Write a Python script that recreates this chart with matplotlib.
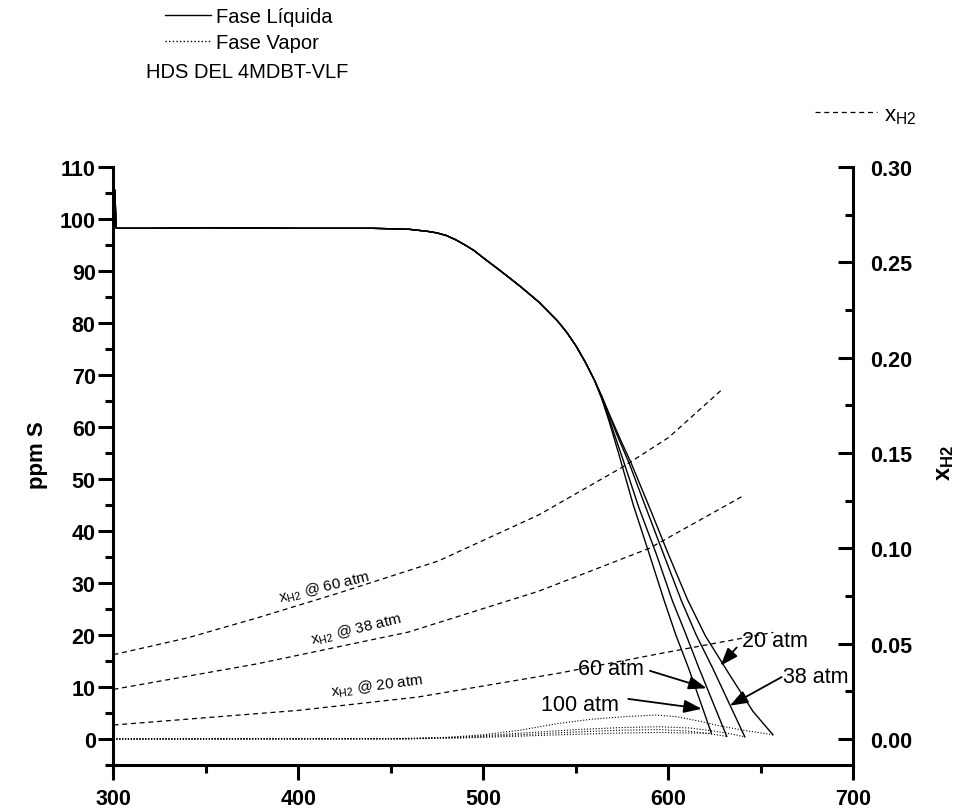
import matplotlib
matplotlib.use("Agg")
import matplotlib.pyplot as plt
from matplotlib.lines import Line2D
from matplotlib.ticker import MultipleLocator, FormatStrFormatter

plt.rcParams["font.family"] = ["Liberation Sans", "DejaVu Sans"]
plt.rcParams["mathtext.fontset"] = "custom"
plt.rcParams["mathtext.rm"] = "Liberation Sans"
plt.rcParams["mathtext.it"] = "Liberation Sans"
plt.rcParams["mathtext.bf"] = "Liberation Sans:bold"

# Fase liquida: tramo comun a todas las presiones (T en K, ppm S)
T_comun = [300.7, 301.5, 320, 350, 400, 440, 460, 470, 475, 480, 485, 490, 495, 500, 510, 520,
           530, 540, 545, 550, 555]
ppm_comun = [105.5, 98.2, 98.2, 98.3, 98.2, 98.2, 98.0, 97.6, 97.3, 96.8, 96.0, 95.0, 93.9, 92.5,
             89.8, 87.0, 84.0, 80.4, 78.2, 75.6, 72.5]

# Fase liquida: tramo final de cada presion
T_liq_100 = [560, 564, 568, 573, 581, 589.7, 597.8, 604, 610.8, 618.9, 623.2]
ppm_liq_100 = [69.0, 65.4, 61.0, 55.0, 45.0, 35.5, 26.5, 20.0, 13.7, 5.5, 1.1]
T_liq_60 = [560, 564, 568, 572, 576.1, 584, 593.5, 602.2, 609, 616.4, 625.8, 631.5]
ppm_liq_60 = [69.0, 65.5, 61.5, 57.3, 53.0, 44.5, 35.5, 26.5, 20.5, 13.7, 5.5, 0.5]
T_liq_38 = [560, 564, 568, 573, 578.8, 588, 597.4, 607.1, 615, 623.8, 634.6, 641.3]
ppm_liq_38 = [69.0, 65.8, 62.2, 57.8, 53.0, 44.3, 35.5, 26.5, 20.0, 13.7, 5.5, 0.4]
T_liq_20 = [560, 564, 568, 574, 579.9, 590, 600, 610.3, 620, 632.6, 645.7, 656.5]
ppm_liq_20 = [69.0, 65.9, 62.5, 57.6, 53.0, 44.3, 35.5, 26.8, 19.8, 12.6, 5.3, 0.8]

# Fase vapor
T_vap_20 = [300, 450, 480, 500, 520, 540.8, 558.7, 577, 593, 604, 617, 627.7, 642, 656.5]
ppm_vap_20 = [0, 0.05, 0.3, 0.8, 1.7, 3.0, 3.8, 4.3, 4.6, 4.3, 3.4, 2.5, 1.6, 0.8]
T_vap_38 = [300, 460, 490, 520, 550, 575, 595, 612, 625, 635, 641.3]
ppm_vap_38 = [0, 0.05, 0.4, 1.1, 1.8, 2.2, 2.35, 2.1, 1.5, 0.9, 0.4]
T_vap_60 = [300, 460, 490, 520, 550, 575, 595, 610, 622, 631.5]
ppm_vap_60 = [0, 0.05, 0.3, 0.8, 1.35, 1.7, 1.8, 1.55, 1.0, 0.5]
T_vap_100 = [300, 460, 490, 520, 550, 575, 595, 610, 623.2]
ppm_vap_100 = [0, 0.03, 0.2, 0.55, 0.9, 1.15, 1.25, 1.15, 1.1]

# Fraccion molar de H2 en el liquido (eje derecho)
T_xh2_60 = [300, 340, 377.7, 420, 475.5, 529.9, 575.2, 600, 629]
xh2_60 = [0.0442, 0.053, 0.0635, 0.076, 0.0933, 0.1175, 0.1426, 0.158, 0.1833]
T_xh2_38 = [300, 377.7, 459.2, 529.9, 589.7, 639.5]
xh2_38 = [0.026, 0.0394, 0.056, 0.0775, 0.100, 0.127]
T_xh2_20 = [300, 400, 464.7, 540.8, 595, 656.7]
xh2_20 = [0.0073, 0.015, 0.022, 0.0345, 0.0447, 0.0559]

liquidos = [(T_liq_100, ppm_liq_100), (T_liq_60, ppm_liq_60), (T_liq_38, ppm_liq_38), (T_liq_20, ppm_liq_20)]
vapores = [(T_vap_100, ppm_vap_100), (T_vap_60, ppm_vap_60), (T_vap_38, ppm_vap_38), (T_vap_20, ppm_vap_20)]
fracciones = [(T_xh2_60, xh2_60), (T_xh2_38, xh2_38), (T_xh2_20, xh2_20)]

estilo_vapor = (0, (1, 1.6))
estilo_xh2 = (0, (4, 3))

fig = plt.figure(figsize=(9.64, 8.12), dpi=100)
ax = fig.add_axes([0.1177, 0.0567, 0.7676, 0.7365])
ax2 = ax.twinx()

# Curvas de la fase liquida
for T, ppm in liquidos:
    ax.plot(T_comun + T, ppm_comun + ppm, color="black", lw=1.0)

# Curvas de la fase vapor
for T, ppm in vapores:
    ax.plot(T, ppm, color="black", lw=0.8, ls=estilo_vapor)

# x_H2 en el eje derecho
for T, x in fracciones:
    ax2.plot(T, x, color="black", lw=0.9, ls=estilo_xh2)

ax.set_xlim(300, 700)
ax.set_ylim(-5, 110)
ax2.set_ylim(-5 * 0.30 / 110, 0.30)

ax.xaxis.set_major_locator(MultipleLocator(100))
ax.xaxis.set_minor_locator(MultipleLocator(50))
ax.yaxis.set_major_locator(MultipleLocator(10))
ax.yaxis.set_minor_locator(MultipleLocator(5))
ax2.yaxis.set_major_locator(MultipleLocator(0.05))
ax2.yaxis.set_minor_locator(MultipleLocator(0.025))
ax2.yaxis.set_major_formatter(FormatStrFormatter("%.2f"))

for a in (ax, ax2):
    a.spines["top"].set_visible(False)
    for s in a.spines.values():
        s.set_linewidth(2.2)
ax.spines["right"].set_visible(False)
ax2.spines["left"].set_visible(False)
ax2.spines["bottom"].set_visible(False)

ax.tick_params(axis="both", which="major", direction="out", length=10.8, width=2.2, labelsize=15.5)
ax.tick_params(axis="both", which="minor", direction="out", length=5.8, width=2.2)
ax.tick_params(axis="y", which="major", pad=2)
ax.tick_params(axis="x", which="major", pad=6)
ax.tick_params(right=False, which="both")
ax2.tick_params(axis="y", which="major", direction="in", length=10.8, width=2.2, labelsize=15.5, pad=12)
ax2.tick_params(axis="y", which="minor", direction="in", length=5.8, width=2.2)

for lab in ax.get_xticklabels() + ax.get_yticklabels() + ax2.get_yticklabels():
    lab.set_fontweight("bold")

ax.set_ylabel("ppm S", fontsize=16, fontweight="bold", va="center")
ax.yaxis.set_label_coords(-0.103, 0.52)
ax2.set_ylabel(r"$\mathbf{x_{H2}}$", fontsize=17, rotation=90, va="center")
ax2.yaxis.set_label_coords(1.1236, 0.507)

# Etiquetas de las curvas de x_H2
ax.text(390.0, 26.3, r"x$_{\mathregular{H2}}$ @ 60 atm", fontsize=11, rotation=13.5,
        rotation_mode="anchor", ha="left", va="baseline")
ax.text(407.1, 18.3, r"x$_{\mathregular{H2}}$ @ 38 atm", fontsize=11, rotation=13.5,
        rotation_mode="anchor", ha="left", va="baseline")
ax.text(417.9, 8.3, r"x$_{\mathregular{H2}}$ @ 20 atm", fontsize=11, rotation=7.5,
        rotation_mode="anchor", ha="left", va="baseline")

# Flechas con la presion de cada curva
flecha = dict(arrowstyle="-|>,head_length=0.6,head_width=0.22", color="black", lw=1.3,
              mutation_scale=18, shrinkA=0, shrinkB=0)
ax.text(639.7, 19.0, "20 atm", fontsize=15.5, ha="left", va="center")
ax.annotate("", xy=(628.2, 14.1), xytext=(636.9, 17.6), arrowprops=flecha)
ax.text(551.1, 13.5, "60 atm", fontsize=15.5, ha="left", va="center")
ax.annotate("", xy=(620.6, 9.75), xytext=(590.0, 13.1), arrowprops=flecha)
ax.text(531.1, 6.7, "100 atm", fontsize=15.5, ha="left", va="center")
ax.annotate("", xy=(618.0, 5.8), xytext=(578.3, 7.7), arrowprops=flecha)
ax.text(661.9, 12.1, "38 atm", fontsize=15.5, ha="left", va="center")
ax.annotate("", xy=(633.2, 6.4), xytext=(661.2, 11.9), arrowprops=flecha)

# Leyendas
manejadores = [Line2D([], [], color="black", lw=1.0),
               Line2D([], [], color="black", lw=1.0, ls=estilo_vapor)]
fig.legend(manejadores, ["Fase Líquida", "Fase Vapor"], loc="upper left",
           bbox_to_anchor=(165 / 964, 1 - 8 / 812), frameon=False, fontsize=14.5,
           handlelength=2.3, handletextpad=0.25, labelspacing=0.35, borderpad=0, borderaxespad=0)
fig.text(247.5 / 964, 1 - 72 / 812, "HDS DEL 4MDBT-VLF", fontsize=14.5, ha="center", va="center")

fig.legend([Line2D([], [], color="black", lw=0.9, ls=estilo_xh2)], [r"x$_{\mathregular{H2}}$"],
           loc="upper left", bbox_to_anchor=(815 / 964, 1 - 105 / 812), frameon=False,
           fontsize=16, handlelength=2.8, handletextpad=0.3, borderpad=0, borderaxespad=0)

fig.savefig("out.png", dpi=100)
